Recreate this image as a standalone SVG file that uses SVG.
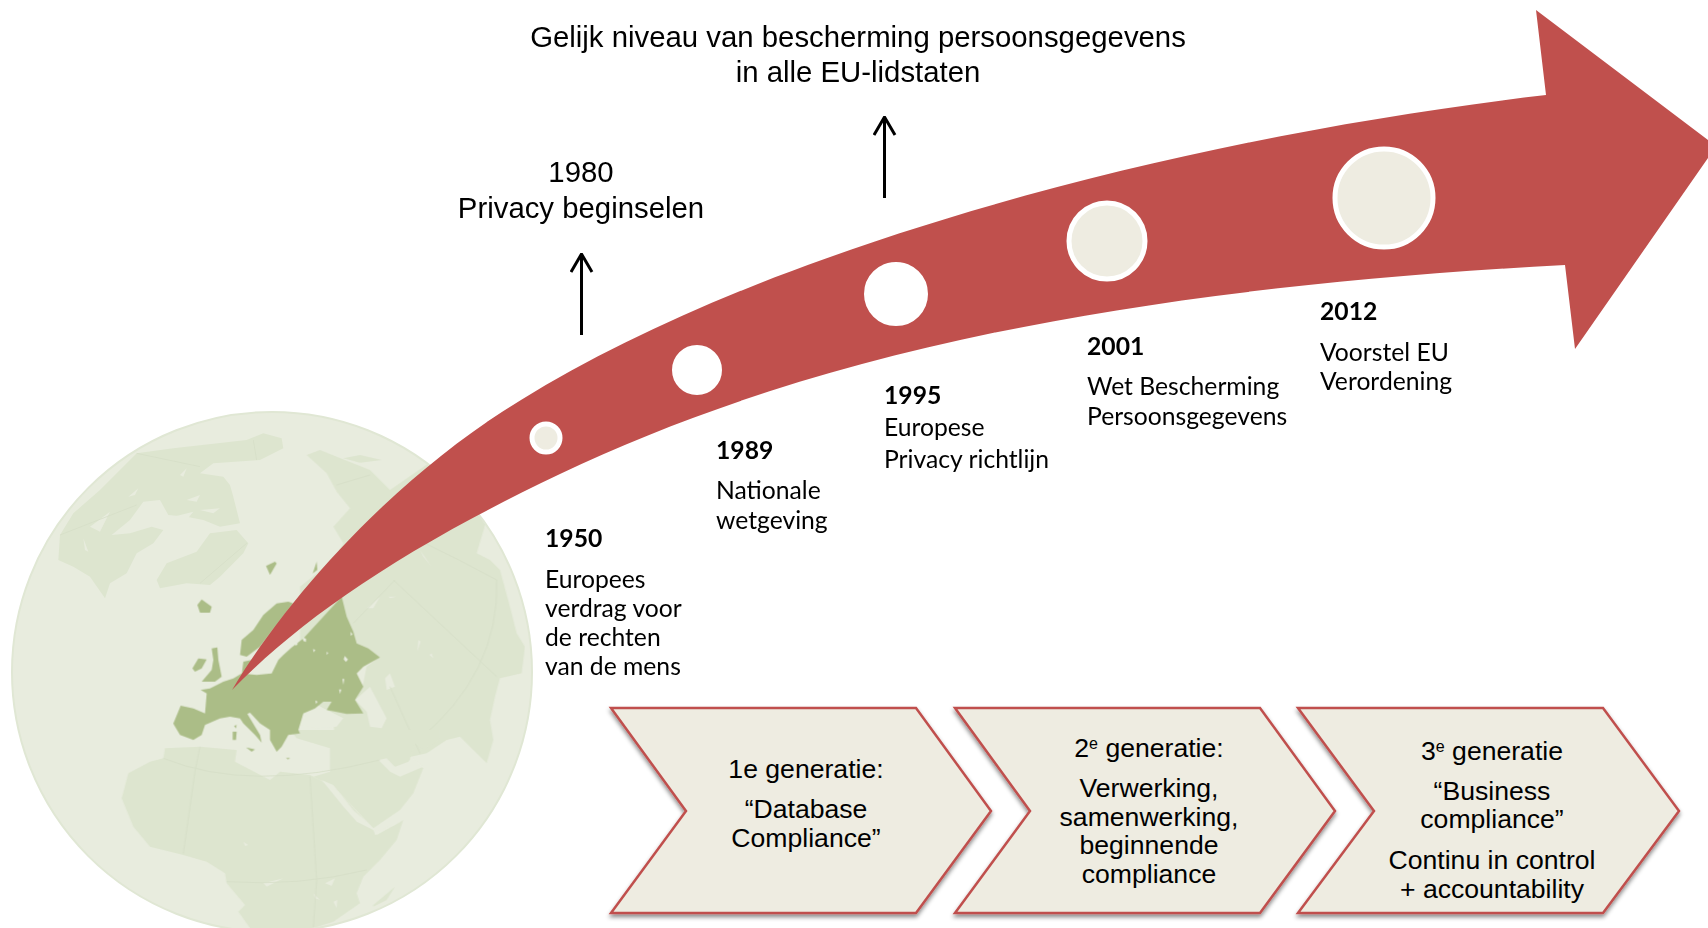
<svg xmlns="http://www.w3.org/2000/svg" width="1708" height="928" viewBox="0 0 1708 928">
<style>
.h{font-family:"Liberation Sans",Arial,sans-serif;font-size:29.35px;fill:#000;text-anchor:middle}
.c{font-family:"Liberation Sans",Arial,sans-serif;font-size:26.6px;fill:#000;text-anchor:middle}
.l{font-family:Lato,"Open Sans",sans-serif;font-size:24.7px;fill:#000}
.b{font-weight:700}
.chev{fill:#eeece1;stroke:#c0504d;stroke-width:2.5;filter:url(#sh)}
.land{fill:#dde5cf}
.sea{fill:#e8ecde}
.eu{fill:#abbd87}
.grat{fill:none;stroke:#d6dfc8;stroke-width:2.5}
.dot{stroke:#fff}
.conn{fill:none;stroke:#000;stroke-width:3}
.sup{font-size:16px}
</style>
<defs>
<filter id="sh" x="-5%" y="-5%" width="110%" height="112%"><feDropShadow dx="0" dy="3" stdDeviation="2" flood-color="#000" flood-opacity=".45"/></filter>
<filter id="soft" x="0" y="0" width="100%" height="100%"><feGaussianBlur stdDeviation=".7"/></filter>
<marker id="ah" viewBox="0 0 20 24" refX="19" refY="12" markerWidth="20" markerHeight="24" markerUnits="userSpaceOnUse" orient="auto"><path d="M1,1.5 L19,12 L1,22.5" fill="none" stroke="#000" stroke-width="3"/></marker>
<clipPath id="gc"><circle cx="272" cy="672" r="259"/></clipPath>
</defs>
<rect width="1708" height="928" fill="#fff"/>
<g id="globe">
<circle cx="272" cy="672" r="260" fill="#e8ecde" stroke="#e0e7d4" stroke-width="2"/>
<g clip-path="url(#gc)">
<g filter="url(#soft)">
<g transform="translate(40,420) scale(.3333)">
<path class="land" d="M60,345L100,280L180,210L290,100L400,85L620,60L670,40L725,55L730,85L660,120L520,130L480,160L550,170L570,195L580,230L600,310L540,320L490,300L440,290L385,285L360,240L310,245L270,300L215,345L270,340L335,320L370,330L340,370L290,400L260,460L210,490L195,535L150,470L100,440L55,420Z"/>
<path class="land" d="M350,480L380,430L470,395L510,340L590,330L625,370L610,400L540,470L510,495L440,490L360,505Z"/>
<path class="sea" d="M130,355L145,395L135,390ZM150,320L210,275L180,335ZM265,230L295,205L285,225ZM420,165L440,145L430,170ZM490,155L510,140L505,150ZM440,240L480,225L470,245ZM480,270L540,265L520,280ZM400,290L460,275L440,300Z"/>
<path class="grat" d="M60,345L290,255M290,100L480,140M640,60L650,120M620,370L480,490"/>
</g>
<g transform="translate(300,420) scale(.3333)">
<path class="land" d="M20,105L60,90L110,110L210,150L270,210L400,120L560,300L530,400L570,420L600,450L630,560L650,640L675,680L665,760L600,775L585,830L570,900L580,960L560,1030L510,980L480,950L440,960L380,1000L290,1020L240,1020L110,1040L100,900L0,800L0,500L100,420L130,370L100,320L150,265L110,215L80,160Z"/>
<path class="land" d="M130,115L180,105L245,120L180,128Z"/>
<path class="sea" d="M168,755L200,730L235,715L200,740L190,790L165,840L210,800L260,895L245,925L210,920L200,875L165,840Z"/>
<path class="sea" d="M255,775L270,760L285,800L260,810Z"/>
<path class="sea" d="M0,915L40,850L130,895L110,920L50,925Z"/>
<path class="sea" d="M355,660L362,665L352,695ZM400,715L388,705L395,700ZM200,565L240,530L220,565ZM360,390L395,440L370,410ZM265,530L290,530L270,535Z"/>
<path class="grat" d="M110,195L210,165M0,670L130,620M280,480L590,770M590,480Q600,760 350,965L100,1070M285,480L160,610M270,800L360,1000M355,360Q480,420 590,480"/>
</g>
<g transform="translate(100,730) scale(.3333)">
<path class="land" d="M65,205L85,130L150,95L190,85L195,55L300,50L410,60L405,95L510,150L540,125L630,135L660,150L720,190L820,300L830,315L910,270L890,330L840,390L790,440L770,490L780,520L700,575L640,594L450,594L415,545L435,525L380,460L375,430L320,395L250,375L150,350L100,290Z"/>
<path class="land" d="M570,0L1020,0L1020,30L970,60L945,40L930,85L970,115L940,190L900,240L820,295L720,190L660,150L640,140L690,125L690,55L590,25Z"/>
<path class="sea" d="M835,90L860,85L885,110L925,95L935,80L970,110L900,140L870,125Z"/>
<path class="sea" d="M665,150L700,165L760,240L820,295L825,315L910,272L830,305L770,275L730,230Z"/>
<path class="land" d="M820,525L885,470L860,510L820,530Z"/>
<path class="sea" d="M675,460L705,445L695,468ZM430,335L445,345L435,348ZM700,515L712,510L710,535ZM640,490L660,510L645,505ZM490,460L550,445L500,470Z"/>
<path class="grat" d="M190,85Q450,190 840,90M300,50L285,125L250,370M630,140L650,450L640,594M380,455Q600,470 800,420"/>
</g>
<g transform="translate(160,560) scale(.3333)">
<path class="eu" d="M40,490L62,437L100,445L135,460L140,400L122,390L150,385L190,365L220,355L245,340L290,345L335,340L355,300L370,285L395,262L430,235L545,110L560,170L580,215L590,250L625,265L660,292L610,320L590,340L610,380L585,420L610,460L560,462L500,450L515,425L490,425L465,445L430,460L415,510L420,520L385,525L365,560L350,575L330,540L330,510L300,490L270,458L262,462L300,525L305,548L285,525L250,490L240,475L210,470L180,475L135,495L125,525L100,540L60,525L42,495Z"/>
<path class="eu" d="M240,285L245,240L280,210L310,165L350,130L385,125L400,130L300,260L260,290ZM245,345L250,305L275,300L262,330Z"/>
<path class="eu" d="M125,365L155,330L160,300L155,265L172,262L175,300L185,350L165,365ZM97,325L115,295L140,298L125,325L105,335Z"/>
<path class="eu" d="M112,135L125,118L155,140L150,158L120,158ZM318,18L345,5L350,10L330,45ZM458,40L470,5L472,30ZM218,515L230,515L228,540L218,540ZM222,498L230,495L228,505ZM258,562L285,568L275,575ZM378,594L390,594L384,598Z"/>
<path class="sea" d="M428,232L438,236L438,246L430,243ZM404,247L414,250L408,258ZM459,267L466,270L461,277ZM500,275L505,279L500,285ZM554,288L564,298L558,306L551,298ZM572,215L578,223L572,227ZM547,357L553,357L550,375ZM537,388L544,388L540,402ZM466,421L473,425L468,432Z"/>
</g>
</g>
</g>
</g>
<g id="timeline-arrow">
<path fill="#c0504d" d="M232,690C295,585 405,470 521,400C780,240 1200,135 1546,95L1536,10L1708,140V158L1575,349L1565,265C1100,290 800,360 560,474C400,550 300,620 232,690Z"/>
</g>
<g id="m1950"><circle class="dot" cx="546" cy="438" r="14" fill="#eeece1" stroke-width="5"/><text class="l b" x="545" y="547">1950</text><text class="l" x="545" y="588">Europees</text><text class="l" x="545" y="617">verdrag voor</text><text class="l" x="545" y="646">de rechten</text><text class="l" x="545" y="675">van de mens</text></g>
<g id="m1989"><circle class="dot" cx="697" cy="370" r="24" fill="#fff" stroke-width="2"/><text class="l b" x="716" y="459">1989</text><text class="l" x="716" y="499">Nationale</text><text class="l" x="716" y="529">wetgeving</text></g>
<g id="m1995"><circle class="dot" cx="896" cy="294" r="31" fill="#fff" stroke-width="2"/><text class="l b" x="884" y="404">1995</text><text class="l" x="884" y="436">Europese</text><text class="l" x="884" y="468">Privacy richtlijn</text></g>
<g id="m2001"><circle class="dot" cx="1107" cy="241" r="38" fill="#eeece1" stroke-width="5"/><text class="l b" x="1087" y="355">2001</text><text class="l" x="1087" y="395">Wet Bescherming</text><text class="l" x="1087" y="425">Persoonsgegevens</text></g>
<g id="m2012"><circle class="dot" cx="1384" cy="198" r="49" fill="#eeece1" stroke-width="5"/><text class="l b" x="1320" y="320">2012</text><text class="l" x="1320" y="361">Voorstel EU</text><text class="l" x="1320" y="390">Verordening</text></g>
<g id="connectors">
<path class="conn" d="M581.5,335V254" marker-end="url(#ah)"/>
<path class="conn" d="M884.5,198V117" marker-end="url(#ah)"/>
</g>
<g id="n1980"><text class="h" x="581" y="182">1980</text><text class="h" x="581" y="218">Privacy beginselen</text></g>
<g id="title"><text class="h" x="858" y="46.5">Gelijk niveau van bescherming persoonsgegevens</text><text class="h" x="858" y="81.5">in alle EU-lidstaten</text></g>
<g id="gen1"><path class="chev" d="M611,708H916L991,811L916,913H611L686,811Z"/><text class="c" x="806" y="778">1e generatie:</text><text class="c" x="806" y="818">“Database</text><text class="c" x="806" y="847">Compliance”</text></g>
<g id="gen2"><path class="chev" d="M955,708H1260L1335,811L1260,913H955L1030,811Z"/><text class="c" x="1149" y="757">2<tspan class="sup" dy="-8">e</tspan><tspan dy="8"> generatie:</tspan></text><text class="c" x="1149" y="797">Verwerking,</text><text class="c" x="1149" y="825.5">samenwerking,</text><text class="c" x="1149" y="854">beginnende</text><text class="c" x="1149" y="883">compliance</text></g>
<g id="gen3"><path class="chev" d="M1298,708H1603L1679,811L1603,913H1298L1374,811Z"/><text class="c" x="1492" y="760">3<tspan class="sup" dy="-8">e</tspan><tspan dy="8"> generatie</tspan></text><text class="c" x="1492" y="800">“Business</text><text class="c" x="1492" y="828">compliance”</text><text class="c" x="1492" y="869">Continu in control</text><text class="c" x="1492" y="898">+ accountability</text></g>
</svg>
